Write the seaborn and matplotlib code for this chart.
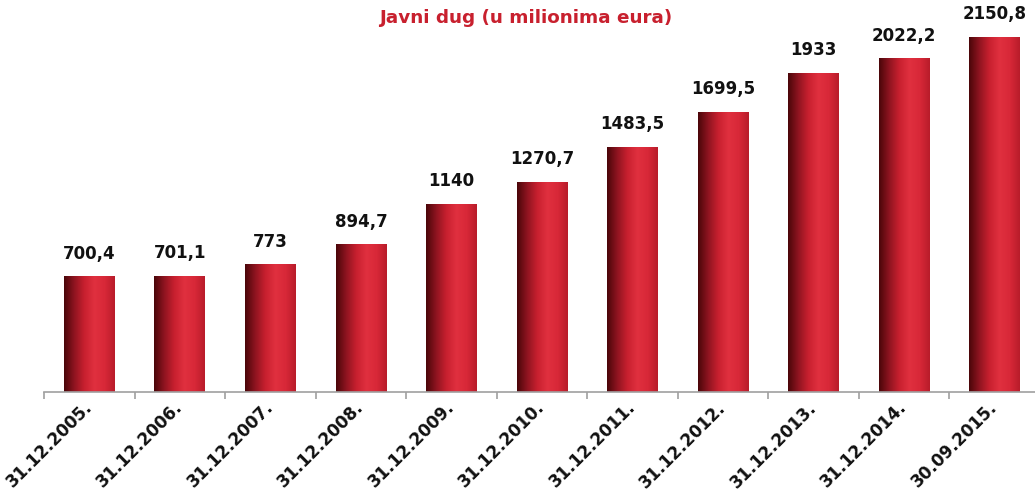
import numpy as np
import pandas as pd
import matplotlib.pyplot as plt
import seaborn as sns
from matplotlib.colors import LinearSegmentedColormap

dates = ["31.12.2005.", "31.12.2006.", "31.12.2007.", "31.12.2008.", "31.12.2009.",
         "31.12.2010.", "31.12.2011.", "31.12.2012.", "31.12.2013.", "31.12.2014.",
         "30.09.2015."]
debt = [700.4, 701.1, 773, 894.7, 1140, 1270.7, 1483.5, 1699.5, 1933, 2022.2, 2150.8]
labels = ["700,4", "701,1", "773", "894,7", "1140", "1270,7", "1483,5", "1699,5",
          "1933", "2022,2", "2150,8"]

df = pd.DataFrame({"date": dates, "debt": debt})

sns.set_style("white")
fig = plt.figure(figsize=(10.35, 4.96), dpi=100)
ax = fig.add_axes([44 / 1035, 104 / 496, 996 / 1035, 0.765])

sns.barplot(data=df, x="date", y="debt", color="#d42636", width=0.56, ax=ax,
            saturation=1)
ax.set_ylim(0, 2300)
ax.set_xlim(-0.5, len(dates) - 0.5)

# horizontal gradient on each bar (dark left edge -> bright red -> slightly darker right)
cmap = LinearSegmentedColormap.from_list(
    "bar", ["#4a0609", "#8e1420", "#c8202f", "#e0303f", "#d82838", "#b81c2a"])
grad = np.linspace(0, 1, 256).reshape(1, -1)
for p in ax.patches:
    x0, w, h = p.get_x(), p.get_width(), p.get_height()
    p.set_facecolor("none")
    p.set_edgecolor("none")
    im = ax.imshow(grad, cmap=cmap, aspect="auto", extent=[x0, x0 + w, 0, h],
                   zorder=2)
    im.set_clip_path(p)

for i, (v, t) in enumerate(zip(debt, labels)):
    ax.annotate(t, (i, v), xytext=(0, 10), textcoords="offset points",
                ha="center", va="bottom", fontsize=12, fontweight="bold",
                color="#111111")

for s in ["left", "right", "top"]:
    ax.spines[s].set_visible(False)
ax.spines["bottom"].set_color("#a0a0a0")
ax.spines["bottom"].set_linewidth(1.2)
ax.set_yticks([])
ax.set_xlabel("")
ax.set_ylabel("")
ax.tick_params(axis="x", which="major", length=0, pad=9)
ax.set_xticks(np.arange(-0.5, len(dates), 1), minor=True)
ax.tick_params(axis="x", which="minor", bottom=True, length=5, color="#a0a0a0",
               width=1.2, direction="out")
ax.set_xticklabels(dates, rotation=45, ha="right", va="center",
                   rotation_mode="anchor", fontsize=12.2, fontweight="bold",
                   color="#111111")

fig.text(526 / 1035, 1 - 18 / 496, "Javni dug (u milionima eura)", ha="center",
         va="center", fontsize=13.2, fontweight="bold", color="#c8202e")

fig.savefig("out.png", dpi=100)
